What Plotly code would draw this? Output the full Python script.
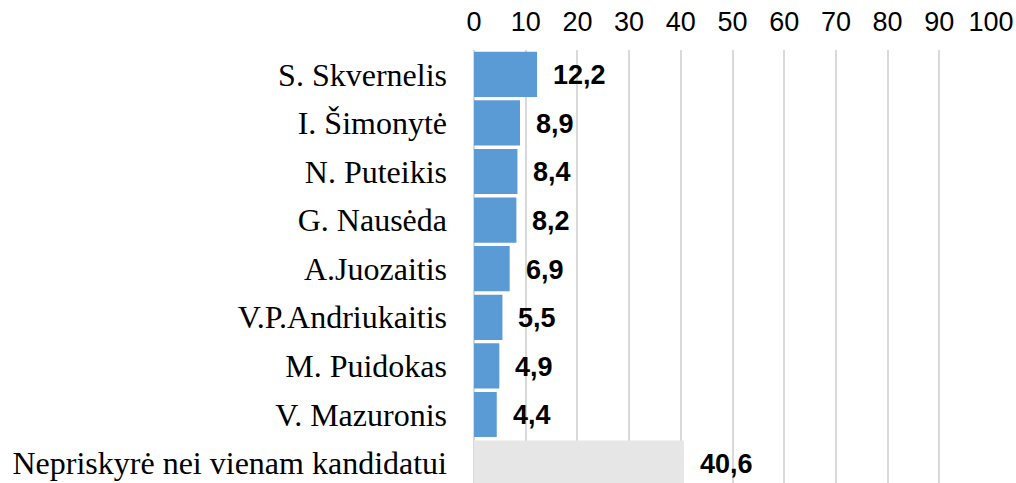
import plotly.graph_objects as go

categories = ["S. Skvernelis", "I. Šimonytė", "N. Puteikis", "G. Nausėda", "A.Juozaitis",
              "V.P.Andriukaitis", "M. Puidokas", "V. Mazuronis", "Nepriskyrė nei vienam kandidatui"]
values = [12.2, 8.9, 8.4, 8.2, 6.9, 5.5, 4.9, 4.4, 40.6]
value_labels = ["12,2", "8,9", "8,4", "8,2", "6,9", "5,5", "4,9", "4,4", "40,6"]
tick_vals = [0, 10, 20, 30, 40, 50, 60, 70, 80, 90, 100]

colors = ["#5B9BD5"] * 8 + ["#E7E6E6"]

fig = go.Figure()
fig.add_trace(go.Bar(
    x=values, y=categories, orientation="h",
    marker=dict(color=colors, line=dict(width=0)),
    hoverinfo="skip",
))

for c, v, t in zip(categories, values, value_labels):
    fig.add_annotation(x=v, y=c, text="<b>" + t + "</b>", showarrow=False,
                       xanchor="left", yanchor="middle", xshift=14, yshift=-1,
                       font=dict(family="Liberation Sans, Arial", size=27, color="#000000"))

fig.update_layout(
    width=1016, height=483,
    margin=dict(l=474, r=25, t=50, b=0),
    paper_bgcolor="white", plot_bgcolor="white",
    bargap=0.07,
    showlegend=False,
    xaxis=dict(side="top", range=[0, 100], tickvals=tick_vals,
               showgrid=True, gridcolor="#D9D9D9", gridwidth=1.5,
               zeroline=True, zerolinecolor="#D9D9D9", zerolinewidth=1.5,
               ticks="", showline=False, ticklabelstandoff=13,
               tickfont=dict(family="Liberation Sans, Arial", size=27, color="#000000")),
    yaxis=dict(type="category", categoryorder="array", categoryarray=categories,
               range=[8.41, -0.5], showgrid=False, zeroline=False, ticks="",
               ticklabelstandoff=26,
               tickfont=dict(family="Liberation Serif, Times New Roman", size=32, color="#000000")),
)

fig.write_html("out.html", config={"displayModeBar": False},
               post_script="document.body.style.margin='0';document.body.style.overflow='hidden';")
